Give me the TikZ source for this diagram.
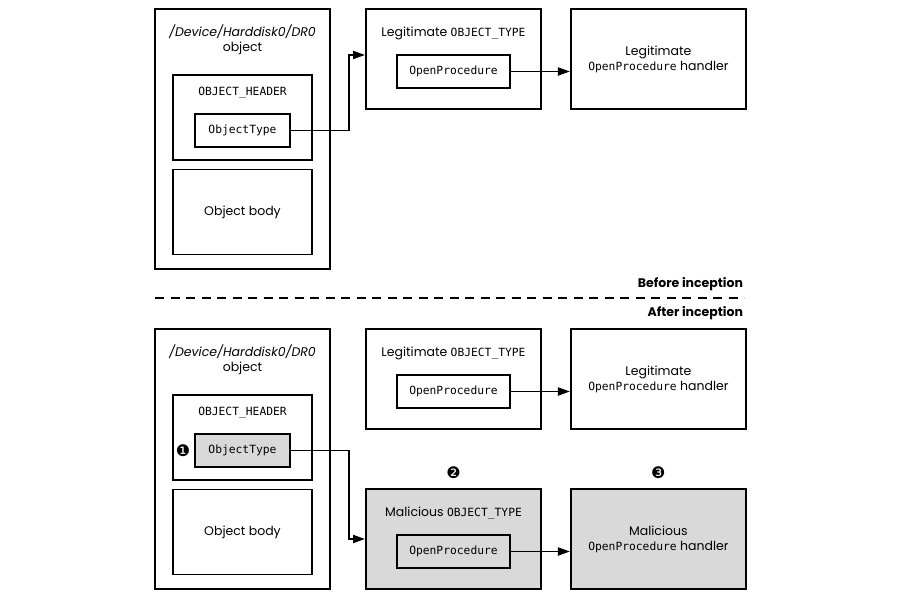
\documentclass[tikz,border=0pt]{standalone}
\usepackage{fontspec}
\setmainfont{Poppins}
\setmonofont{DejaVu Sans Mono}
\newfontfamily\dingfont{DejaVu Sans}
\usepackage{tikz}
\usetikzlibrary{positioning, arrows.meta}
\definecolor{malgray}{HTML}{D9D9D9}

\begin{document}
\begin{tikzpicture}[
    x=1pt, y=-1pt,
    line width=1.9pt,
    node distance=28pt,
    font=\fontsize{12.5}{15}\selectfont,
    outer/.style={draw, inner sep=0pt, minimum width=175pt, minimum height=260pt},
    panel/.style={draw, fill=white, inner sep=0pt, minimum width=139pt, minimum height=85pt},
    code/.style={font=\ttfamily\fontsize{11.3}{13}\selectfont},
    field/.style={draw, fill=white, inner sep=0pt, minimum width=95pt,
      minimum height=33pt, code},
    typebox/.style={draw, fill=white, inner sep=0pt, minimum width=175pt,
      minimum height=100pt, align=center},
    bad/.style={fill=malgray},
    link/.style={-{Triangle[length=12pt,width=8pt]}, line width=1.9pt},
    divider/.style={dash pattern=on 9pt off 6.5pt, line width=1.9pt},
    phase/.style={inner sep=0pt, anchor=east, font=\bfseries\fontsize{12.5}{15}\selectfont},
    stepnum/.style={inner sep=0pt, font=\dingfont\fontsize{16}{16}\selectfont}
  ]
    \useasboundingbox (0,0) rectangle (900,600);

    % before inception
    \node[outer]                        (objA)   at (242.5,139)   {};
    \node[align=center]                 (nameA)  at (242.5,40)    {\textit{/Device/Harddisk0/DR0}\\object};
    \node[panel]                        (hdrA)   at (242.5,117.5) {};
    \node[code]                         (hlblA)  at (242.5,93)    {OBJECT\_HEADER};
    \node[field]                        (typeA)  at (242.5,130.5) {ObjectType};
    \node[panel]                        (bodyA)  at (242.5,212)   {Object body};
    \node[typebox]                      (otA)    at (453.5,59)    {};
    \node                               (olblA)  at (453.5,33)    {Legitimate \texttt{\fontsize{11.3}{13}\selectfont OBJECT\_TYPE}};
    \node[field, minimum width=113pt]   (openA)  at (453.5,71.5)  {OpenProcedure};
    \node[typebox, right=of otA]        (hdlA)   {Legitimate\\\texttt{\fontsize{11.3}{13}\selectfont OpenProcedure} handler};

    \draw[link] (typeA.east) -- ++(58,0) |- ([yshift=4pt]otA.west);
    \draw[link] (openA.east) -- (openA.east -| hdlA.west);

    \node[phase] (before) at (744,284) {Before inception};
    \draw[divider] (155,298) -- (744,298);
    \node[phase] (after)  at (744,313) {After inception};

    % after inception
    \node[outer]                        (objB)   at (242.5,459)   {};
    \node[align=center]                 (nameB)  at (242.5,360)   {\textit{/Device/Harddisk0/DR0}\\object};
    \node[panel]                        (hdrB)   at (242.5,437.5) {};
    \node[code]                         (hlblB)  at (242.5,413)   {OBJECT\_HEADER};
    \node[field, bad]                   (typeB)  at (242.5,450.5) {ObjectType};
    \node[stepnum, left=3pt of typeB]   (one)    {❶};
    \node[panel]                        (bodyB)  at (242.5,532)   {Object body};
    \node[typebox]                      (otB)    at (453.5,379)   {};
    \node                               (olblB)  at (453.5,353)   {Legitimate \texttt{\fontsize{11.3}{13}\selectfont OBJECT\_TYPE}};
    \node[field, minimum width=113pt]   (openB)  at (453.5,391.5) {OpenProcedure};
    \node[typebox, right=of otB]        (hdlB)   {Legitimate\\\texttt{\fontsize{11.3}{13}\selectfont OpenProcedure} handler};

    \node[typebox, bad]                 (otC)    at (453.5,539)   {};
    \node                               (olblC)  at (453.5,513)   {Malicious \texttt{\fontsize{11.3}{13}\selectfont OBJECT\_TYPE}};
    \node[field, bad, minimum width=113pt] (openC) at (453.5,551.5) {OpenProcedure};
    \node[typebox, bad, right=of otC]   (hdlC)   {Malicious\\\texttt{\fontsize{11.3}{13}\selectfont OpenProcedure} handler};
    \node[stepnum, above=8pt of otC]    (two)    {❷};
    \node[stepnum, above=8pt of hdlC]   (three)  {❸};

    \draw[link] (openB.east) -- (openB.east -| hdlB.west);
    \draw[link] (typeB.east) -- ++(58,0) |- (otC.west);
    \draw[link] (openC.east) -- (openC.east -| hdlC.west);
\end{tikzpicture}
\end{document}
